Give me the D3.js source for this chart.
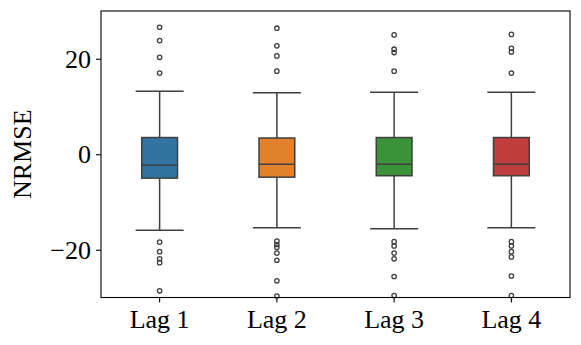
<!DOCTYPE html>
<html>
<head>
<meta charset="utf-8">
<script src="https://cdn.jsdelivr.net/npm/d3@7"></script>
<style>
    body { margin: 0; background: #fff; }
    text { font-family: "Liberation Serif", "DejaVu Serif", serif; }
</style>
</head>
<body>
<svg id="chart" width="581" height="345"></svg>
<script>
// box stats
var lags = ['Lag 1', 'Lag 2', 'Lag 3', 'Lag 4'];
var colors = ['#3274a1', '#e1812c', '#3a923a', '#c03d3e'];
var whisker_lo = [-15.9, -15.4, -15.6, -15.4];
var q1 = [-5.0, -4.8, -4.5, -4.5];
var median = [-2.3, -2.1, -2.1, -2.1];
var q3 = [3.5, 3.4, 3.5, 3.5];
var whisker_hi = [13.2, 12.9, 13.0, 13.0];
var outliers = [
    [26.6, 23.8, 20.3, 17.0, -18.4, -20.4, -21.9, -22.7, -28.6],
    [26.4, 22.7, 20.6, 17.4, -18.2, -18.9, -19.5, -20.7, -22.2, -26.5, -29.7],
    [25.0, 22.0, 21.3, 17.4, -18.3, -19.2, -20.7, -21.9, -25.6, -29.6],
    [25.1, 22.2, 21.4, 17.0, -18.3, -19.2, -20.4, -21.5, -25.5, -29.6]
];
var y_ticks = [-20, 0, 20];

var svg = d3.select("#chart");
var margin = {top: 11, left: 101, bottom: 47.5, right: 11};
var width = 581 - margin.right;
var height = 345 - margin.bottom;
var line_col = '#3f3f3f';

var data = lags.map(function(d, i) {
    return {lag: d, color: colors[i], lo: whisker_lo[i], q1: q1[i], med: median[i],
            q3: q3[i], hi: whisker_hi[i], fliers: outliers[i]};
});

var x = d3.scaleBand()
    .domain(lags)
    .range([margin.left, width])
    .padding(0);

var y = d3.scaleLinear()
    .domain([-30, 30])
    .range([height, margin.top]);

var box_w = x.bandwidth() * 0.305;
var cap_w = x.bandwidth() * 0.41;

//-----------------------------------------------------------------------------
// axes
var xAxis = svg.append("g")
    .attr("transform", `translate(0,${height})`)
    .call(d3.axisBottom(x).tickSizeInner(5).tickSizeOuter(0).tickPadding(5));
xAxis.select(".domain").remove();
xAxis.selectAll("line").attr("stroke", "#000").attr("stroke-width", 1.1);
xAxis.selectAll("text")
    .attr("font-size", "26px")
    .attr("fill", "#000")
    .attr("y", 30.5)
    .attr("dy", 0);

var yAxis = svg.append("g")
    .attr("transform", `translate(${margin.left},0)`)
    .call(d3.axisLeft(y).tickValues(y_ticks).tickSizeInner(5).tickSizeOuter(0).tickPadding(5));
yAxis.select(".domain").remove();
yAxis.selectAll("line").attr("stroke", "#000").attr("stroke-width", 1.1);
yAxis.selectAll("text")
    .attr("font-size", "26px")
    .attr("fill", "#000")
    .attr("dy", "0.33em");

svg.append("text")
    .attr("transform", `translate(31,${(height + margin.top) / 2}) rotate(-90)`)
    .attr("text-anchor", "middle")
    .attr("font-size", "26px")
    .text("NRMSE");

//-----------------------------------------------------------------------------
// boxes
var g = svg.selectAll("g.box")
    .data(data)
    .enter().append("g")
    .attr("class", "box")
    .attr("transform", d => `translate(${x(d.lag) + x.bandwidth() / 2},0)`);

g.append("line")
    .attr("y1", d => y(d.hi)).attr("y2", d => y(d.q3))
    .attr("stroke", line_col).attr("stroke-width", 1.5);
g.append("line")
    .attr("y1", d => y(d.lo)).attr("y2", d => y(d.q1))
    .attr("stroke", line_col).attr("stroke-width", 1.5);

g.selectAll("line.cap")
    .data(d => [d.lo, d.hi])
    .enter().append("line")
    .attr("class", "cap")
    .attr("x1", -cap_w / 2).attr("x2", cap_w / 2)
    .attr("y1", d => y(d)).attr("y2", d => y(d))
    .attr("stroke", line_col).attr("stroke-width", 1.5);

g.append("rect")
    .attr("x", -box_w / 2)
    .attr("width", box_w)
    .attr("y", d => y(d.q3))
    .attr("height", d => y(d.q1) - y(d.q3))
    .attr("fill", d => d.color)
    .attr("stroke", line_col).attr("stroke-width", 1.5);

g.append("line")
    .attr("x1", -box_w / 2).attr("x2", box_w / 2)
    .attr("y1", d => y(d.med)).attr("y2", d => y(d.med))
    .attr("stroke", line_col).attr("stroke-width", 1.5);

g.selectAll("circle")
    .data(d => d.fliers)
    .enter().append("circle")
    .attr("cy", d => y(d))
    .attr("r", 2.2)
    .attr("fill", "none")
    .attr("stroke", line_col).attr("stroke-width", 1.3);

//-----------------------------------------------------------------------------
// frame
svg.append("rect")
    .attr("x", margin.left).attr("y", margin.top)
    .attr("width", width - margin.left).attr("height", height - margin.top)
    .attr("fill", "none")
    .attr("stroke", "#000").attr("stroke-width", 1.1);
</script>
</body>
</html>
